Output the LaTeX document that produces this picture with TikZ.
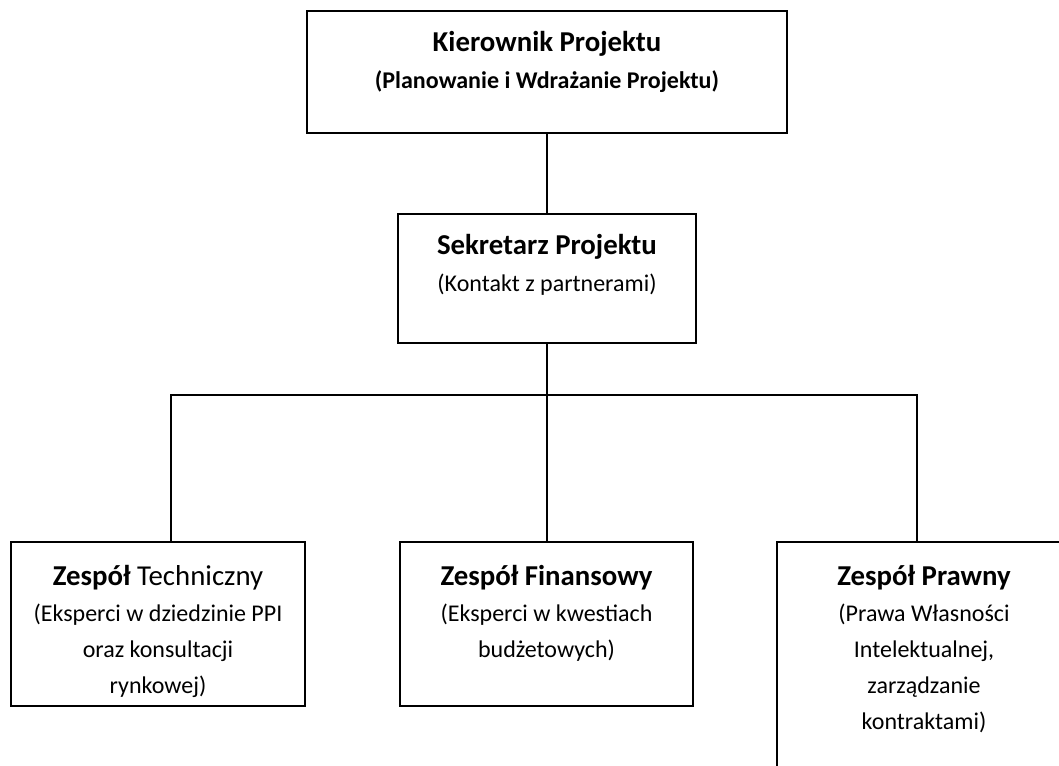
\documentclass[tikz,border=0pt]{standalone}
\usepackage{fontspec}
\setmainfont{Carlito}
\usetikzlibrary{calc}

\tikzset{
  box/.style={draw=black, line width=1.1pt, rectangle, inner sep=0pt, fill=none},
  link/.style={draw=black, line width=1.1pt},
  ttl/.style={anchor=base, inner sep=0pt, font=\fontsize{21.6}{26}\selectfont\bfseries},
  sub/.style={anchor=base, inner sep=0pt, font=\fontsize{18}{22}\selectfont},
}

\begin{document}
\begin{tikzpicture}[x=0.75pt, y=-0.75pt]
  \useasboundingbox (0,0) rectangle (1059,765);
  \clip (0,0) rectangle (1059,765);

  % boxes
  \node[box, minimum width=360pt, minimum height=91.5pt] (kier) at (547,72) {};
  \node[box, minimum width=223.5pt, minimum height=96.75pt] (sek) at (547,278.5) {};
  \node[box, minimum width=220.5pt, minimum height=123pt] (tech) at (158,624) {};
  \node[box, minimum width=219.75pt, minimum height=123pt] (fin) at (546.5,624) {};
  \node[box, minimum width=220.5pt, minimum height=193.5pt] (praw) at (924,671) {};

  % texts
  \node[ttl] (kierT) at (547,51) {Kierownik Projektu};
  \node[sub, font=\fontsize{18}{22}\selectfont\bfseries] (kierS) at (547,88) {(Planowanie i Wdrażanie Projektu)};

  \node[ttl] (sekT) at (547,254) {Sekretarz Projektu};
  \node[sub] (sekS) at (547,291) {(Kontakt z partnerami)};

  \node[ttl] (techT) at (158,585) {Zespół \mdseries Techniczny};
  \node[sub] (techA) at (158,621) {(Eksperci w dziedzinie PPI};
  \node[sub] (techB) at (158,657) {oraz konsultacji};
  \node[sub] (techC) at (158,693) {rynkowej)};

  \node[ttl] (finT) at (546.5,585) {Zespół Finansowy};
  \node[sub] (finA) at (546.5,621) {(Eksperci w kwestiach};
  \node[sub] (finB) at (546.5,657) {budżetowych)};

  \node[ttl] (prawT) at (924,585) {Zespół Prawny};
  \node[sub] (prawA) at (924,621) {(Prawa Własności};
  \node[sub] (prawB) at (924,657) {Intelektualnej,};
  \node[sub] (prawC) at (924,693) {zarządzanie};
  \node[sub] (prawD) at (924,729) {kontraktami)};

  % connectors
  \coordinate (bus) at (547,395);
  \draw[link] (kier.south) -- (sek.north);
  \draw[link] (sek.south) -- (bus);
  \draw[link] ($(tech.north)+(13,0)$) |- (bus) -| ($(praw.north)+(-7,0)$);
  \draw[link] (bus) -- (fin.north -| bus);
\end{tikzpicture}
\end{document}
